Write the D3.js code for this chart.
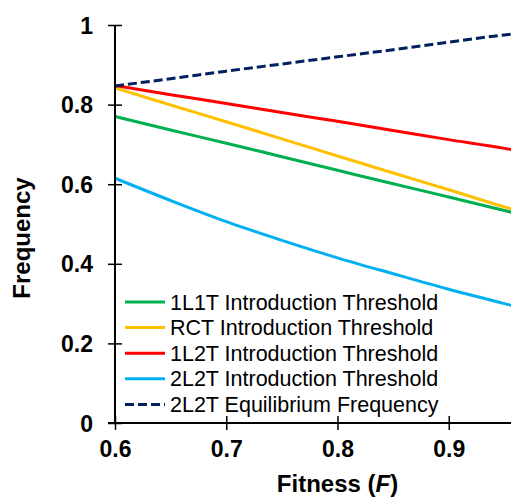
<!DOCTYPE html>
<html>
<head>
<meta charset="utf-8">
<script src="https://cdn.jsdelivr.net/npm/d3@7"></script>
<style>
  html, body { margin: 0; padding: 0; background: #fff; overflow: hidden; }
  svg { display: block; font-family: "Liberation Sans", Arial, sans-serif; }
</style>
</head>
<body>
<svg id="chart"></svg>
<script>
// Data
const fitness = [0.6, 0.65, 0.7, 0.75, 0.8, 0.85, 0.9, 0.95, 0.96];
const oneL1T = [0.770, 0.736, 0.703, 0.669, 0.635, 0.601, 0.568, 0.534, 0.527];
const rct = [0.842, 0.799, 0.757, 0.714, 0.671, 0.628, 0.586, 0.543, 0.535];
const oneL2T = [0.848, 0.825, 0.803, 0.780, 0.758, 0.735, 0.712, 0.690, 0.685];
const twoL2T = [0.615, 0.559, 0.506, 0.459, 0.415, 0.375, 0.336, 0.300, 0.293];
const twoL2TEq = [0.847, 0.865, 0.884, 0.902, 0.920, 0.938, 0.957, 0.975, 0.978];

const seriesNames = [
    "1L1T Introduction Threshold",
    "RCT Introduction Threshold",
    "1L2T Introduction Threshold",
    "2L2T Introduction Threshold",
    "2L2T Equilibrium Frequency"
];
const seriesValues = [oneL1T, rct, oneL2T, twoL2T, twoL2TEq];
const seriesColors = ["#00B050", "#FFC000", "#FF0000", "#00B0F0", "#002060"];
const seriesDash = [null, null, null, null, "9,4"];

const xTicks = [0.6, 0.7, 0.8, 0.9];
const yTicks = [0, 0.2, 0.4, 0.6, 0.8, 1];

// Dimensions (the right side of the original figure is cut off)
const width = 511, height = 498;
const plotLeft = 115, plotRight = 560, plotTop = 25, plotBottom = 423;

const svg = d3.select("#chart")
    .attr("width", width)
    .attr("height", height);

const x = d3.scaleLinear().domain([0.6, 1.0]).range([plotLeft, plotRight]);
const y = d3.scaleLinear().domain([0, 1]).range([plotBottom, plotTop]);

// Lines
const line = d3.line()
    .x(d => x(d[0]))
    .y(d => y(d[1]))
    .curve(d3.curveMonotoneX);

seriesValues.forEach((vals, i) => {
    svg.append("path")
        .datum(fitness.map((f, j) => [f, vals[j]]))
        .attr("fill", "none")
        .attr("stroke", seriesColors[i])
        .attr("stroke-width", 3)
        .attr("stroke-dasharray", seriesDash[i])
        .attr("d", line);
});

// X axis
const xAxis = svg.append("g")
    .attr("transform", `translate(0,${plotBottom})`)
    .call(d3.axisBottom(x).tickValues(xTicks).tickFormat(d3.format(".1f")).tickSizeOuter(0));
xAxis.select(".domain").attr("stroke", "#000").attr("stroke-width", 2)
    .attr("d", `M${plotLeft - 7},0H${plotRight}`);
xAxis.selectAll(".tick line").attr("y1", -7).attr("y2", 7).attr("stroke-width", 1.5);
xAxis.selectAll(".tick text")
    .attr("y", 34)
    .attr("dy", null)
    .style("font-size", "23px")
    .style("font-weight", "bold")
    .attr("fill", "#000");

// Y axis
const yAxis = svg.append("g")
    .attr("transform", `translate(${plotLeft},0)`)
    .call(d3.axisLeft(y).tickValues(yTicks).tickFormat(d => d === 0 || d === 1 ? d : d3.format(".1f")(d)).tickSizeOuter(0));
yAxis.select(".domain").attr("stroke", "#000").attr("stroke-width", 2)
    .attr("d", `M0,${plotTop}V${plotBottom}`);
yAxis.selectAll(".tick line").attr("x1", 7).attr("x2", -7).attr("stroke-width", 1.5);
yAxis.selectAll(".tick text")
    .attr("x", -22)
    .attr("dy", "0.35em")
    .style("font-size", "23px")
    .style("font-weight", "bold")
    .attr("fill", "#000");

// Axis titles
const xTitle = svg.append("text")
    .attr("x", (plotLeft + plotRight) / 2)
    .attr("y", 492)
    .attr("text-anchor", "middle")
    .style("font-size", "24px")
    .style("font-weight", "bold");
xTitle.append("tspan").text("Fitness (");
xTitle.append("tspan").style("font-style", "italic").text("F");
xTitle.append("tspan").text(")");

svg.append("text")
    .attr("transform", "translate(30,238) rotate(-90)")
    .attr("text-anchor", "middle")
    .style("font-size", "24px")
    .style("font-weight", "bold")
    .text("Frequency");

// Legend
const legend = svg.append("g").attr("transform", "translate(125,302)");
seriesNames.forEach((name, i) => {
    const row = legend.append("g").attr("transform", `translate(0,${i * 25.6})`);
    row.append("line")
        .attr("x1", 0).attr("x2", 40)
        .attr("stroke", seriesColors[i])
        .attr("stroke-width", 3)
        .attr("stroke-dasharray", seriesDash[i]);
    row.append("text")
        .attr("x", 45)
        .attr("dy", "0.35em")
        .style("font-size", "21.5px")
        .text(name);
});
</script>
</body>
</html>
